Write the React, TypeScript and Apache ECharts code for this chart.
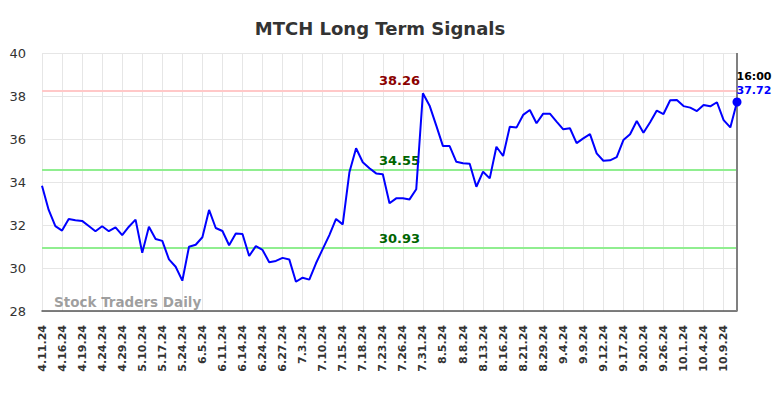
import React, { useEffect, useRef } from "react";
import * as echarts from "echarts";

const dates: string[] = [
  "4.11.24", "4.12.24", "4.15.24", "4.16.24", "4.17.24", "4.18.24", "4.19.24", "4.22.24", "4.23.24", "4.24.24",
  "4.25.24", "4.26.24", "4.29.24", "5.8.24", "5.9.24", "5.10.24", "5.14.24", "5.16.24", "5.17.24", "5.20.24",
  "5.22.24", "5.24.24", "5.29.24", "5.31.24", "6.5.24", "6.6.24", "6.7.24", "6.11.24", "6.12.24", "6.13.24",
  "6.14.24", "6.18.24", "6.20.24", "6.24.24", "6.25.24", "6.26.24", "6.27.24", "6.28.24", "7.1.24", "7.3.24",
  "7.5.24", "7.8.24", "7.10.24", "7.11.24", "7.12.24", "7.15.24", "7.16.24", "7.17.24", "7.18.24", "7.19.24",
  "7.22.24", "7.23.24", "7.24.24", "7.25.24", "7.26.24", "7.29.24", "7.30.24", "7.31.24", "8.1.24", "8.2.24",
  "8.5.24", "8.6.24", "8.7.24", "8.8.24", "8.9.24", "8.12.24", "8.13.24", "8.14.24", "8.15.24", "8.16.24",
  "8.19.24", "8.20.24", "8.21.24", "8.22.24", "8.26.24", "8.29.24", "8.30.24", "9.3.24", "9.4.24", "9.5.24",
  "9.6.24", "9.9.24", "9.10.24", "9.11.24", "9.12.24", "9.13.24", "9.16.24", "9.17.24", "9.18.24", "9.19.24",
  "9.20.24", "9.23.24", "9.24.24", "9.26.24", "9.27.24", "9.30.24", "10.1.24", "10.2.24", "10.3.24", "10.4.24",
  "10.7.24", "10.8.24", "10.9.24", "10.10.24", "10.11.24",
];

const prices: number[] = [
  33.83, 32.70, 31.95, 31.74, 32.28, 32.22, 32.19, 31.95, 31.71, 31.94,
  31.71, 31.89, 31.53, 31.92, 32.25, 30.71, 31.92, 31.35, 31.26, 30.40,
  30.06, 29.41, 30.99, 31.08, 31.43, 32.70, 31.86, 31.72, 31.06, 31.61,
  31.58, 30.56, 31.02, 30.84, 30.27, 30.33, 30.47, 30.40, 29.36, 29.55,
  29.46, 30.22, 30.88, 31.53, 32.28, 32.03, 34.45, 35.57, 34.92, 34.64,
  34.40, 34.36, 33.01, 33.24, 33.24, 33.19, 33.66, 38.13, 37.55, 36.62,
  35.67, 35.67, 34.94, 34.87, 34.85, 33.78, 34.48, 34.17, 35.64, 35.21,
  36.57, 36.53, 37.12, 37.35, 36.73, 37.18, 37.18, 36.81, 36.45, 36.50,
  35.81, 36.03, 36.23, 35.33, 34.99, 35.01, 35.16, 35.95, 36.22, 36.84,
  36.29, 36.78, 37.32, 37.16, 37.80, 37.81, 37.53, 37.46, 37.30, 37.58,
  37.52, 37.71, 36.88, 36.54, 37.72,
];

const resistanceLevel = 38.26;
const supportLevels: number[] = [34.55, 30.93];
const lastTime = "16:00";
const yTicks = { min: 28, max: 40, interval: 2 };

export default function App() {
  const ref = useRef<HTMLDivElement>(null);
  useEffect(() => {
    if (!ref.current) return;
    const chart = echarts.init(ref.current, undefined, { renderer: "svg" });
    const lastIdx = prices.length - 1;
    const seriesData = prices.map((v, i) =>
      i === lastIdx
        ? {
            value: v,
            symbol: "circle",
            symbolSize: 9,
            label: {
              show: true,
              position: [4, -28],
              formatter: `{t|${lastTime}}\n{v|${v.toFixed(2)}}`,
              rich: {
                t: { fontFamily: "DejaVu Sans", fontWeight: "bold", fontSize: 11, color: "#000", lineHeight: 14 },
                v: { fontFamily: "DejaVu Sans", fontWeight: "bold", fontSize: 11, color: "#0000ff", lineHeight: 14 },
              },
            },
          }
        : { value: v, symbol: "none", symbolSize: 0 }
    );
    const levelLabel = (color: string) => ({
      show: true,
      position: "insideMiddleTop",
      formatter: (p: any) => Number(p.value).toFixed(2),
      color,
      fontFamily: "DejaVu Sans",
      fontWeight: "bold",
      fontSize: 13,
      distance: [10, 3],
      padding: [0, 0, 0, 20],
    });
    chart.setOption({
      animation: false,
      title: {
        text: "MTCH Long Term Signals",
        left: 375,
        top: 14,
        textAlign: "center",
        textStyle: { fontFamily: "DejaVu Sans", fontWeight: "bold", fontSize: 18, color: "#333" },
      },
      grid: { left: 42, right: 47, top: 53, bottom: 87, containLabel: false },
      xAxis: {
        type: "category",
        data: dates,
        boundaryGap: false,
        axisLine: { show: true, lineStyle: { color: "#555", width: 1.5 } },
        axisTick: { show: false },
        axisLabel: {
          interval: 2,
          rotate: 90,
          margin: 14,
          fontFamily: "DejaVu Sans",
          fontWeight: "bold",
          fontSize: 11,
          color: "#333",
        },
        splitLine: { show: true, interval: 2, lineStyle: { color: "#e6e6e6", width: 1 } },
      },
      yAxis: {
        type: "value",
        min: yTicks.min,
        max: yTicks.max,
        interval: yTicks.interval,
        axisLine: { show: false },
        axisTick: { show: false },
        axisLabel: { margin: 16, fontFamily: "DejaVu Sans", fontSize: 13, color: "#333" },
        splitLine: { show: true, lineStyle: { color: "#e6e6e6", width: 1 } },
      },
      series: [
        {
          type: "line",
          data: seriesData,
          lineStyle: { color: "#0000ff", width: 2 },
          itemStyle: { color: "#0000ff" },
          showSymbol: true,
          showAllSymbol: true,
          z: 5,
          markLine: {
            silent: true,
            symbol: "none",
            data: [
              {
                yAxis: resistanceLevel,
                lineStyle: { color: "#ffc8c8", width: 2, type: "solid" },
                label: levelLabel("#8b0000"),
              },
              ...supportLevels.map((lv) => ({
                yAxis: lv,
                lineStyle: { color: "#90ee90", width: 2, type: "solid" },
                label: levelLabel("#006400"),
              })),
              {
                xAxis: dates[lastIdx],
                lineStyle: { color: "#808080", width: 2, type: "solid" },
                label: { show: false },
              },
            ],
          },
        },
      ],
      graphic: [
        {
          type: "text",
          left: 54,
          top: 295,
          z: 10,
          style: {
            text: "Stock Traders Daily",
            fontFamily: "DejaVu Sans",
            fontWeight: "bold",
            fontSize: 13.5,
            fill: "rgba(128,128,128,0.75)",
          },
        },
      ],
    });
    return () => chart.dispose();
  }, []);
  return <div ref={ref} style={{ width: 784, height: 398, position: "absolute", left: 0, top: 0 }} />;
}
